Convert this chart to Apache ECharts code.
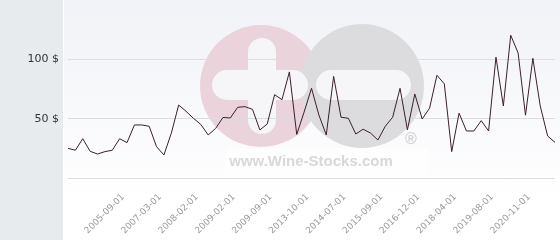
<!DOCTYPE html>
<html>
<head>
<meta charset="utf-8">
<script src="https://cdn.jsdelivr.net/npm/echarts@6/dist/echarts.min.js"></script>
<style>
html,body{margin:0;padding:0;}
#chart{width:560px;height:240px;
background:
 linear-gradient(to right,#e7ebee 0,#e7ebee 63px,#ffffff 63px,#ffffff 64px,rgba(255,255,255,0) 64px),
 linear-gradient(to bottom,#f1f2f7 0,#ffffff 200px);}
</style>
</head>
<body>
<div id="chart"></div>
<script>
const categories = [
 '2004-01-01','2004-04-01','2004-07-01','2004-10-01','2005-01-01','2005-04-01','2005-06-01','2005-09-01',
 '2005-12-01','2006-03-01','2006-06-01','2006-10-01','2007-03-01',
 '2007-05-01','2007-07-01','2007-09-01','2007-12-01','2008-02-01',
 '2008-04-01','2008-06-01','2008-09-01','2008-11-01','2009-02-01',
 '2009-03-01','2009-05-01','2009-06-01','2009-08-01','2009-09-01',
 '2010-06-01','2011-03-01','2012-01-01','2012-11-01','2013-10-01',
 '2013-12-01','2014-02-01','2014-04-01','2014-05-01','2014-07-01',
 '2014-10-01','2015-01-01','2015-04-01','2015-06-01','2015-09-01',
 '2015-12-01','2016-03-01','2016-06-01','2016-09-01','2016-12-01',
 '2017-03-01','2017-06-01','2017-09-01','2018-01-01','2018-04-01',
 '2018-07-01','2018-10-01','2019-01-01','2019-05-01','2019-08-01',
 '2019-11-01','2020-02-01','2020-05-01','2020-08-01','2020-11-01',
 '2021-02-01','2021-05-01','2021-08-01','2021-11-01'
];
const prices = [
 25.0,23.4,33.1,22.5,20.2,22.2,23.4,33.1,
 29.8,44.7,44.7,43.6,26.4,
 19.4,37.7,61.5,56.2,50.3,
 45.1,36.3,41.7,51.0,50.6,
 59.6,60.1,57.9,40.5,45.5,
 70.2,66.0,89.4,36.7,55.6,
 75.6,53.1,36.3,85.6,51.2,
 50.3,37.1,41.1,37.9,32.0,
 43.6,51.2,75.6,40.5,70.8,
 49.7,58.8,86.6,79.3,22.2,
 54.6,39.6,39.6,48.3,39.6,
 101.8,60.7,120.3,105.4,52.9,
 100.9,60.7,35.4,30.0
];
const yTicks = [0,50,100,150];
const yLabelShown = [50,100];
const firstLabelIndex = 7;
const labelStep = 5;

const chart = echarts.init(document.getElementById('chart'), null, {renderer:'canvas'});
chart.setOption({
  backgroundColor:'transparent',
  animation:false,
  grid:{left:68,right:5,top:0,bottom:62,containLabel:false},
  graphic:[
    {type:'circle',z:-5,shape:{cx:261,cy:86,r:61},style:{fill:'#ebd3db'}},
    {type:'circle',z:-4,shape:{cx:362,cy:86,r:62},style:{fill:'#dcdcdf'}},
    {type:'rect',z:-3,shape:{x:248,y:38,width:28,height:96,r:14},style:{fill:'#f6f6f9'}},
    {type:'rect',z:-3,shape:{x:212,y:70,width:96,height:30,r:15},style:{fill:'#f6f6f9'}},
    {type:'rect',z:-3,shape:{x:316,y:70,width:95,height:30,r:15},style:{fill:'#f6f6f9'}},
    {type:'rect',z:-4,shape:{x:226,y:148,width:202,height:26},style:{fill:'rgba(255,255,255,0.6)'}},
    {type:'text',z:-2,style:{x:311,y:162,text:'www.Wine-Stocks.com',fill:'#d8d8da',font:'bold 15px "Liberation Sans", Arial, sans-serif',textAlign:'center',textVerticalAlign:'middle'}},
    {type:'text',z:-2,style:{x:411,y:140,text:'®',fill:'#d2d2d4',font:'bold 16px "Liberation Sans", Arial, sans-serif',textAlign:'center',textVerticalAlign:'middle'}}
  ],
  xAxis:{
    type:'category',
    data:categories,
    boundaryGap:false,
    axisLine:{show:false},
    axisTick:{show:false},
    splitLine:{show:false},
    axisLabel:{
      rotate:45,
      margin:21,
      padding:[0,-5,0,0],
      color:'#9a9a9a',
      fontSize:9,
      fontFamily:'DejaVu Sans',
      interval:function(i){return i>=firstLabelIndex && (i-firstLabelIndex)%labelStep===0;}
    }
  },
  yAxis:{
    type:'value',
    min:yTicks[0],max:yTicks[yTicks.length-1],interval:50,
    axisLine:{show:false},
    axisTick:{show:false},
    splitLine:{show:true,lineStyle:{color:['#dcdde2','#dcdde2','#dcdde2','rgba(0,0,0,0)'],width:1}},
    axisLabel:{
      margin:9,
      color:'#333333',
      fontSize:11,
      fontFamily:'DejaVu Sans',
      formatter:function(v){return yLabelShown.indexOf(v)>=0 ? v+' $' : '';}
    }
  },
  series:[{
    type:'line',
    data:prices,
    showSymbol:false,
    symbol:'none',
    z:5,
    lineStyle:{color:'#3a1f2c',width:1}
  }]
});
</script>
</body>
</html>
